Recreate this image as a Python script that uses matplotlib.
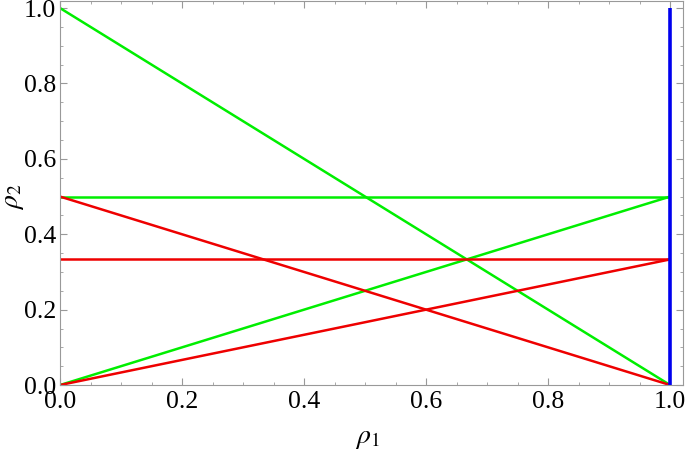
import matplotlib
matplotlib.use("Agg")
import matplotlib.pyplot as plt
from matplotlib.ticker import MultipleLocator, FormatStrFormatter

# segments: (x0, y0, x1, y1)
green_segments = [(0, 1, 1, 0), (0, 0.5, 1, 0.5), (0, 0, 1, 0.5)]
red_segments = [(0, 0.5, 1, 0), (0, 1 / 3, 1, 1 / 3), (0, 0, 1, 1 / 3)]
blue_segments = [(1, 0, 1, 1)]

plt.rcParams['font.family'] = ['Liberation Serif', 'DejaVu Serif']
plt.rcParams['mathtext.fontset'] = 'stix'

fig = plt.figure(figsize=(6.85, 4.53), dpi=100)
ax = fig.add_axes([0.0876, 0.150, 0.9094, 0.848])

for x0, y0, x1, y1 in green_segments:
    ax.plot([x0, x1], [y0, y1], color='#00ee00', lw=1.8, solid_capstyle='butt')
for x0, y0, x1, y1 in red_segments:
    ax.plot([x0, x1], [y0, y1], color='#ee0000', lw=1.8, solid_capstyle='butt')
for x0, y0, x1, y1 in blue_segments:
    ax.plot([x0, x1], [y0, y1], color='#0000ee', lw=2.6, solid_capstyle='butt')

ax.set_xlim(0, 1.021)
ax.set_ylim(0, 1.019)
ax.xaxis.set_major_locator(MultipleLocator(0.2))
ax.yaxis.set_major_locator(MultipleLocator(0.2))
ax.xaxis.set_minor_locator(MultipleLocator(0.05))
ax.yaxis.set_minor_locator(MultipleLocator(0.05))
ax.xaxis.set_major_formatter(FormatStrFormatter('%.1f'))
ax.yaxis.set_major_formatter(FormatStrFormatter('%.1f'))
ax.tick_params(which='both', direction='in', top=True, right=True,
               color='#999999', labelsize=18.5)
ax.tick_params(which='major', length=5, width=0.8)
ax.tick_params(which='minor', length=2.5, width=0.6)
ax.tick_params(axis='y', pad=3)
ax.tick_params(axis='x', pad=4)
for s in ax.spines.values():
    s.set_color('#999999')
    s.set_linewidth(0.8)

fig.text(0.537, 0.032, r'$\rho_1$', fontsize=20, ha='center', va='center')
fig.text(0.019, 0.565, r'$\rho_2$', fontsize=20, ha='center', va='center',
         rotation=90)

fig.savefig('out.png', dpi=100)
